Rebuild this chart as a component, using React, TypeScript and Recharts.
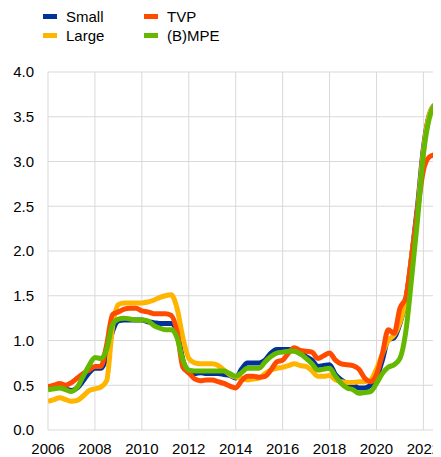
import React from "react";
import { LineChart, Line, XAxis, YAxis, CartesianGrid } from "recharts";

const quarters = [
  2006, 2006.25, 2006.5, 2006.75, 2007, 2007.25, 2007.5, 2007.75,
  2008, 2008.25, 2008.5, 2008.75, 2009, 2009.25, 2009.5, 2009.75,
  2010, 2010.25, 2010.5, 2010.75, 2011, 2011.25, 2011.5, 2011.75,
  2012, 2012.25, 2012.5, 2012.75, 2013, 2013.25, 2013.5, 2013.75,
  2014, 2014.25, 2014.5, 2014.75, 2015, 2015.25, 2015.5, 2015.75,
  2016, 2016.25, 2016.5, 2016.75, 2017, 2017.25, 2017.5, 2017.75,
  2018, 2018.25, 2018.5, 2018.75, 2019, 2019.25, 2019.5, 2019.75,
  2020, 2020.25, 2020.5, 2020.75, 2021, 2021.25, 2021.5, 2021.75,
  2022, 2022.25, 2022.5, 2022.75,
];

const small = [
  0.48, 0.49, 0.49, 0.46, 0.44, 0.47, 0.55, 0.64,
  0.69, 0.69, 0.82, 1.1, 1.22, 1.23, 1.23, 1.23,
  1.23, 1.21, 1.2, 1.19, 1.19, 1.19, 1.1, 0.78,
  0.64, 0.63, 0.64, 0.63, 0.63, 0.63, 0.62, 0.61,
  0.58, 0.68, 0.75, 0.75, 0.75, 0.78, 0.86, 0.9,
  0.9, 0.9, 0.89, 0.86, 0.82, 0.78, 0.71, 0.72,
  0.73, 0.62, 0.56, 0.52, 0.5, 0.47, 0.47, 0.5,
  0.58, 0.78, 1.01, 1.03, 1.19, 1.45, 1.94, 2.5,
  3.15, 3.52, 3.63, 3.62,
];

const large = [
  0.32, 0.34, 0.36, 0.34, 0.32, 0.33, 0.38, 0.44,
  0.46, 0.48, 0.55, 1.15, 1.4, 1.42, 1.42, 1.42,
  1.42, 1.43, 1.45, 1.48, 1.5, 1.51, 1.36, 1.03,
  0.8, 0.75, 0.74, 0.74, 0.74, 0.72, 0.67, 0.62,
  0.59, 0.58, 0.56, 0.57, 0.58, 0.63, 0.67, 0.69,
  0.7, 0.72, 0.74, 0.72, 0.71, 0.66, 0.6, 0.6,
  0.61, 0.56, 0.54, 0.53, 0.53, 0.54, 0.54, 0.56,
  0.68, 0.85, 1.0, 1.06, 1.2, 1.45, 1.94, 2.45,
  3.12, 3.52, 3.63, 3.62,
];

const tvp = [
  0.48, 0.5, 0.52, 0.5, 0.53, 0.58, 0.63, 0.67,
  0.71, 0.71, 0.95, 1.29, 1.32, 1.35, 1.36, 1.36,
  1.33, 1.32, 1.3, 1.3, 1.3, 1.28, 1.1, 0.7,
  0.64, 0.57, 0.55, 0.56, 0.56, 0.54, 0.52, 0.49,
  0.47, 0.55, 0.6, 0.6, 0.59, 0.6, 0.67, 0.76,
  0.78, 0.86, 0.92, 0.89, 0.88, 0.87, 0.8, 0.83,
  0.86, 0.78, 0.74, 0.73, 0.72, 0.68, 0.58, 0.54,
  0.62, 0.85, 1.12, 1.08, 1.36, 1.48, 1.94, 2.45,
  2.9, 3.05, 3.08, 3.1,
];

const bmpe = [
  0.45, 0.46, 0.47, 0.45, 0.43, 0.48, 0.6, 0.72,
  0.81, 0.8, 0.9, 1.18, 1.24, 1.25, 1.24, 1.23,
  1.23, 1.22, 1.17, 1.14, 1.12, 1.12, 1.03, 0.78,
  0.67, 0.66, 0.66, 0.66, 0.66, 0.66, 0.66, 0.63,
  0.6, 0.64, 0.69, 0.69, 0.69, 0.76, 0.82, 0.86,
  0.87, 0.88, 0.88, 0.85, 0.8, 0.74, 0.67, 0.68,
  0.69, 0.6, 0.52, 0.47, 0.45, 0.41, 0.42, 0.43,
  0.52, 0.63, 0.7, 0.73, 0.8, 1.1, 1.7, 2.35,
  3.08, 3.48, 3.63, 3.63,
];

const xTicks = [2006, 2008, 2010, 2012, 2014, 2016, 2018, 2020, 2022];
const yTicks = [0, 0.5, 1, 1.5, 2, 2.5, 3, 3.5, 4];

const seriesNames = ["Small", "Large", "TVP", "(B)MPE"];
const seriesKeys = ["small", "large", "tvp", "bmpe"];
const seriesColors = ["#003299", "#FFB400", "#FF4B00", "#65B800"];

const data = quarters.map((t, i) => ({
  t,
  small: small[i],
  large: large[i],
  tvp: tvp[i],
  bmpe: bmpe[i],
}));

const FONT = "'Liberation Sans', Arial, sans-serif";

function LegendBlock() {
  const pos = [
    { left: 35, top: 0 },
    { left: 35, top: 19 },
    { left: 136, top: 0 },
    { left: 136, top: 19 },
  ];
  return (
    <div style={{ position: "absolute", left: 0, top: 0 }}>
      {seriesNames.map((name, i) => (
        <div
          key={name}
          style={{
            position: "absolute",
            left: pos[i].left,
            top: pos[i].top,
            height: 17,
            display: "flex",
            alignItems: "center",
            whiteSpace: "nowrap",
            fontFamily: FONT,
            fontSize: 15,
            color: "#000",
          }}
        >
          <span
            style={{
              display: "inline-block",
              width: 14,
              height: 5,
              background: seriesColors[i],
              marginRight: 9,
            }}
          />
          <span>{name}</span>
        </div>
      ))}
    </div>
  );
}

export default function App() {
  return (
    <div style={{ position: "relative", width: 433, height: 449, overflow: "hidden" }}>
      <LegendBlock />
      <LineChart
        width={433}
        height={448}
        data={data}
        margin={{ top: 64, right: 0, bottom: 0, left: 0 }}
      >
        <CartesianGrid stroke="#d9d9d9" strokeWidth={1} />
        <XAxis
          dataKey="t"
          type="number"
          domain={[2006, 2022.75]}
          ticks={xTicks}
          allowDataOverflow
          axisLine={false}
          tickLine={false}
          tickSize={0}
          tickMargin={13}
          height={26}
          interval={0}
          tick={{ fill: "#000", fontSize: 15, fontFamily: FONT }}
        />
        <YAxis
          type="number"
          domain={[0, 4]}
          ticks={yTicks}
          width={40}
          axisLine={false}
          tickLine={false}
          tickSize={0}
          tickMargin={14}
          interval={0}
          tickFormatter={(v: number) => v.toFixed(1)}
          tick={{ fill: "#000", fontSize: 15, fontFamily: FONT }}
        />
        {seriesKeys.map((k, i) => (
          <Line
            key={k}
            dataKey={k}
            name={seriesNames[i]}
            type="monotoneX"
            stroke={seriesColors[i]}
            strokeWidth={5}
            dot={false}
            activeDot={false}
            isAnimationActive={false}
            strokeLinejoin="round"
          />
        ))}
      </LineChart>
    </div>
  );
}
